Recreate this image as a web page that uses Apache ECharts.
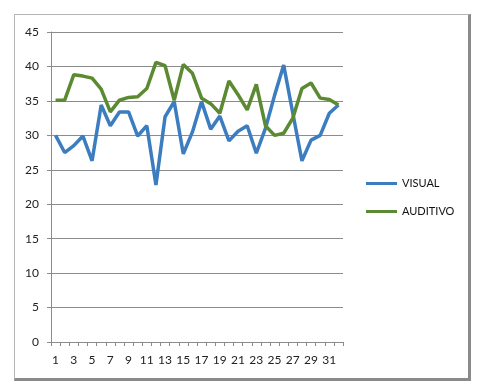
<!DOCTYPE html>
<html>
<head>
<meta charset="utf-8">
<script src="https://cdn.jsdelivr.net/npm/echarts@6/dist/echarts.min.js"></script>
<style>
  html, body { margin: 0; padding: 0; background: #fff; }
  #box {
    position: absolute; left: 14px; top: 14px; width: 453px; height: 363px;
    border-top: 1px solid #b5b5b5; border-left: 1px solid #b5b5b5;
    border-right: 3px solid #8a8a8a; border-bottom: 3px solid #8a8a8a;
  }
  #chart { position: absolute; left: 0; top: 0; width: 482px; height: 390px; }
</style>
</head>
<body>
<div id="box"></div>
<div id="chart"></div>
<script>
var categories = [];
for (var i = 1; i <= 32; i++) categories.push(String(i));

var visual = [30, 27.5, 28.5, 29.9, 26.3, 34.4, 31.4, 33.4, 33.4, 29.9, 31.4, 22.8, 32.7, 34.9, 27.3, 30.5,
              34.9, 30.9, 32.8, 29.2, 30.6, 31.4, 27.4, 31, 35.8, 40.2, 33.2, 26.3, 29.3, 30, 33.2, 34.4];
var auditivo = [35.1, 35.1, 38.8, 38.6, 38.3, 36.7, 33.4, 35.1, 35.5, 35.6, 36.8, 40.6, 40.1, 35.1, 40.3, 39,
                35.4, 34.6, 33.2, 37.9, 35.9, 33.7, 37.4, 31.4, 30, 30.3, 32.5, 36.8, 37.6, 35.4, 35.2, 34.4];

var font = 'Lato, "Open Sans", sans-serif';

var myChart = echarts.init(document.getElementById('chart'));
var option = {
  animation: false,
  textStyle: { fontFamily: font },
  grid: { left: 51, right: 139, top: 32, bottom: 48, containLabel: false },
  legend: {
    orient: 'vertical',
    left: 361,
    top: 173,
    itemWidth: 31,
    itemHeight: 3,
    itemGap: 17,
    icon: 'rect',
    textStyle: { fontSize: 11, color: '#111', fontFamily: font },
    data: ['VISUAL', 'AUDITIVO']
  },
  xAxis: {
    type: 'category',
    data: categories,
    boundaryGap: true,
    axisLine: { lineStyle: { color: '#8c8c8c', width: 1 } },
    axisTick: { show: true, length: 4, interval: 0, lineStyle: { color: '#8c8c8c' } },
    axisLabel: { interval: 1, margin: 12, fontSize: 12, color: '#222', fontFamily: font }
  },
  yAxis: {
    type: 'value',
    min: 0,
    max: 45,
    interval: 5,
    axisLine: { show: true, lineStyle: { color: '#8c8c8c', width: 1 } },
    axisTick: { show: true, length: 4, lineStyle: { color: '#8c8c8c' } },
    splitLine: { lineStyle: { color: '#8c8c8c', width: 1 } },
    axisLabel: { margin: 12, fontSize: 12, color: '#222', fontFamily: font }
  },
  series: [
    {
      name: 'VISUAL',
      type: 'line',
      data: visual,
      symbol: 'none',
      lineStyle: { color: '#3c7dc0', width: 3.5 },
      itemStyle: { color: '#3c7dc0' }
    },
    {
      name: 'AUDITIVO',
      type: 'line',
      data: auditivo,
      symbol: 'none',
      lineStyle: { color: '#5b8a32', width: 3.5 },
      itemStyle: { color: '#5b8a32' }
    }
  ]
};
myChart.setOption(option);
</script>
</body>
</html>
